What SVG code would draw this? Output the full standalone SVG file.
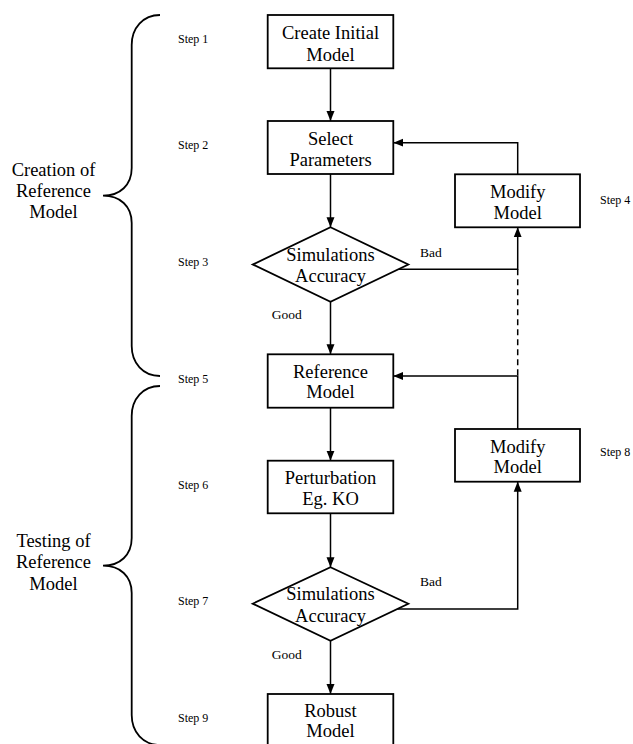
<svg xmlns="http://www.w3.org/2000/svg" width="633" height="744" viewBox="0 0 633 744">
<style>
.box{fill:#fff;stroke:#000;stroke-width:1.8}
.big{font-family:"Liberation Serif","Times New Roman",serif;font-size:18.5px;fill:#000;text-anchor:middle}
.step{font-family:"Liberation Serif","Times New Roman",serif;font-size:12px;fill:#000}
.lbl{font-family:"Liberation Serif","Times New Roman",serif;font-size:13.5px;fill:#000}
.ln{fill:none;stroke:#000;stroke-width:1.5}
.dash{fill:none;stroke:#000;stroke-width:1.5;stroke-dasharray:6,4}
.brace{fill:none;stroke:#000;stroke-width:1.8}
</style>
<defs>
<marker id="ah" viewBox="0 0 10 10" refX="10" refY="5" markerWidth="10" markerHeight="10" markerUnits="userSpaceOnUse" orient="auto">
<path d="M0,1 L10,5 L0,9 z" fill="#000"/>
</marker>
</defs>
<rect width="633" height="744" fill="#fff"/>

<g id="brace1">
<path class="brace" d="M160,15 C143,15 131.7,28 131.7,45 L131.7,168 C131.7,185 120,195.7 103,195.7 C120,195.7 131.7,206 131.7,223 L131.7,346 C131.7,363 143,376 160,376"/>
<text class="big" x="53.5" y="176">Creation of</text>
<text class="big" x="53.5" y="197.3">Reference</text>
<text class="big" x="53.5" y="218.3">Model</text>
</g>
<g id="brace2">
<path class="brace" d="M160,386 C143,386 131.7,399 131.7,416 L131.7,538 C131.7,555 120,565.7 103,565.7 C120,565.7 131.7,576 131.7,593 L131.7,715 C131.7,732 143,745 160,745"/>
<text class="big" x="53.5" y="546.7">Testing of</text>
<text class="big" x="53.5" y="568.3">Reference</text>
<text class="big" x="53.5" y="590">Model</text>
</g>

<g id="steps">
<text class="step" x="178" y="43">Step 1</text>
<text class="step" x="178" y="149">Step 2</text>
<text class="step" x="178" y="266">Step 3</text>
<text class="step" x="600" y="204">Step 4</text>
<text class="step" x="178" y="383">Step 5</text>
<text class="step" x="178" y="489">Step 6</text>
<text class="step" x="178" y="605">Step 7</text>
<text class="step" x="600" y="456">Step 8</text>
<text class="step" x="178" y="722">Step 9</text>
</g>

<g id="connectors">
<line class="ln" x1="330.5" y1="68" x2="330.5" y2="121" marker-end="url(#ah)"/>
<line class="ln" x1="330.5" y1="174" x2="330.5" y2="227.3" marker-end="url(#ah)"/>
<line class="ln" x1="330.5" y1="301.7" x2="330.5" y2="354.3" marker-end="url(#ah)"/>
<line class="ln" x1="330.5" y1="407.7" x2="330.5" y2="460.7" marker-end="url(#ah)"/>
<line class="ln" x1="330.5" y1="513.3" x2="330.5" y2="567.3" marker-end="url(#ah)"/>
<line class="ln" x1="330.5" y1="640.7" x2="330.5" y2="694" marker-end="url(#ah)"/>
<polyline class="ln" points="397.5,269.3 517.7,269.3 517.7,227.3" marker-end="url(#ah)"/>
<polyline class="ln" points="517.7,174 517.7,142.7 393.3,142.7" marker-end="url(#ah)"/>
<line class="dash" x1="517.7" y1="269.3" x2="517.7" y2="376"/>
<polyline class="ln" points="517.7,429 517.7,376 393.3,376" marker-end="url(#ah)"/>
<polyline class="ln" points="397.5,609 517.7,609 517.7,481.7" marker-end="url(#ah)"/>
<text class="lbl" x="420" y="256.7">Bad</text>
<text class="lbl" x="271.7" y="319.3">Good</text>
<text class="lbl" x="420" y="585.7">Bad</text>
<text class="lbl" x="271.7" y="659.3">Good</text>
</g>

<g id="create-initial-model">
<rect class="box" x="267.7" y="15" width="125.6" height="53.3"/>
<text class="big" x="330.5" y="39.2">Create Initial</text>
<text class="big" x="330.5" y="60.7">Model</text>
</g>
<g id="select-parameters">
<rect class="box" x="267.7" y="121" width="125.6" height="53"/>
<text class="big" x="330.5" y="145">Select</text>
<text class="big" x="330.5" y="165.7">Parameters</text>
</g>
<g id="modify-model-1">
<rect class="box" x="455" y="174.3" width="125" height="53"/>
<text class="big" x="517.7" y="198.3">Modify</text>
<text class="big" x="517.7" y="219">Model</text>
</g>
<g id="simulations-accuracy-1">
<polygon class="box" points="330.5,227.3 408.3,264.5 330.5,301.7 252.7,264.5"/>
<text class="big" x="330.5" y="260.7">Simulations</text>
<text class="big" x="330.5" y="281.7">Accuracy</text>
</g>
<g id="reference-model">
<rect class="box" x="267.7" y="354.3" width="125.6" height="53.4"/>
<text class="big" x="330.5" y="377.7">Reference</text>
<text class="big" x="330.5" y="398.3">Model</text>
</g>
<g id="modify-model-2">
<rect class="box" x="455" y="429" width="125" height="52.7"/>
<text class="big" x="517.7" y="452.5">Modify</text>
<text class="big" x="517.7" y="473.3">Model</text>
</g>
<g id="perturbation">
<rect class="box" x="267.7" y="460.7" width="125.6" height="52.6"/>
<text class="big" x="330.5" y="484.3">Perturbation</text>
<text class="big" x="330.5" y="505">Eg. KO</text>
</g>
<g id="simulations-accuracy-2">
<polygon class="box" points="330.5,567.3 408.3,603.7 330.5,640.7 252.7,603.7"/>
<text class="big" x="330.5" y="600">Simulations</text>
<text class="big" x="330.5" y="621.7">Accuracy</text>
</g>
<g id="robust-model">
<rect class="box" x="267.7" y="694" width="125.6" height="53"/>
<text class="big" x="330.5" y="717.3">Robust</text>
<text class="big" x="330.5" y="737.3">Model</text>
</g>
</svg>
